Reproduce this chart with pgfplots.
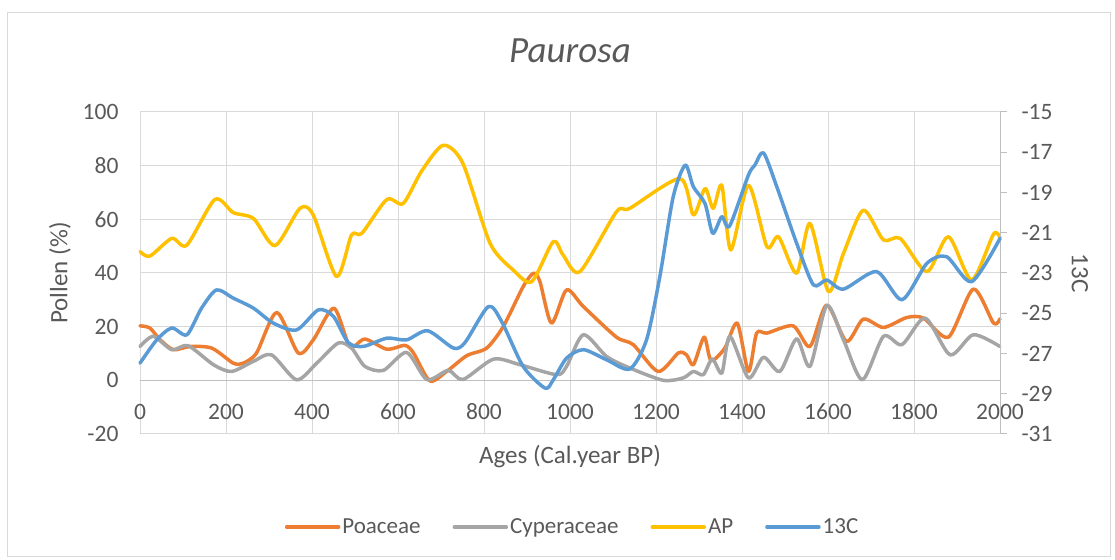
\documentclass[border=0pt]{standalone}
\usepackage{pgfplots}
\pgfplotsset{compat=1.18}
\usepackage{fontspec}
\setmainfont{Carlito}
\definecolor{cPoa}{HTML}{ED7D31}
\definecolor{cCyp}{HTML}{A5A5A5}
\definecolor{cAP}{HTML}{FFC000}
\definecolor{cC}{HTML}{5B9BD5}
\definecolor{txt}{HTML}{595959}
\definecolor{grd}{HTML}{D9D9D9}
\definecolor{axl}{HTML}{BFBFBF}
\begin{document}
\begin{tikzpicture}
\useasboundingbox (0pt,0pt) rectangle (1115pt,559pt);
\draw[grd, line width=1pt] (7pt,3pt) rectangle (1110pt,546pt);
\pgfplotsset{every axis/.append style={font=\fontsize{23}{27}\selectfont, /pgf/number format/assume math mode=true, /pgf/number format/1000 sep={},
    tick label style={font=\fontsize{23.5}{27}\selectfont, text=txt},
    label style={font=\fontsize{25}{30}\selectfont, text=txt}},
  dl/.style={line width=3.5pt, line cap=round, line join=round, smooth, tension=0.45}}
\begin{axis}[at={(140pt,125pt)}, anchor=south west, scale only axis, width=860pt, height=322pt,
  xmin=0, xmax=2000, ymin=-20, ymax=100,
  xtick={0,200,...,2000}, ytick={-20,0,...,100},
  grid=major, major grid style={grd, line width=1pt},
  axis line style={grd, line width=1pt},
  major tick length=0pt,
  xticklabel style={anchor=center, yshift=22pt},
  yticklabel style={xshift=-18pt},
  ylabel={Pollen (\%)}, ylabel style={at={(axis description cs:-0.093,0.5)}, anchor=center},
  xlabel={Ages (Cal.year BP)}, xlabel style={at={(axis description cs:0.5,-0.0714)}, anchor=center},
  title={Paurosa}, title style={at={(axis description cs:0.5,1.171)}, anchor=center, font=\fontsize{37}{42}\selectfont\itshape, text=txt},
  clip=false]
\draw[axl, line width=1pt] (axis cs:0,0) -- (axis cs:2000,0);
\addplot[dl, cPoa] coordinates {(0,20.3)(23,19.5)(47,15.1)(78,11.4)(116,12.6)(167,12.0)(217,6.4)(240,6.4)(271,10.2)(318,25.3)(368,10.2)(403,15.1)(451,26.9)(488,12.6)(523,15.4)(574,11.6)(616,13.0)(636,10.2)(674,-0.2)(713,3.3)(760,9.2)(806,12.0)(845,20.1)(891,34.9)(915,39.9)(930,36.8)(957,21.3)(992,33.7)(1031,27.5)(1108,16.1)(1147,13.3)(1205,3.3)(1252,10.2)(1271,9.5)(1287,5.8)(1312,16.1)(1328,7.4)(1360,12.0)(1389,21.3)(1415,3.3)(1434,17.6)(1458,17.6)(1519,20.3)(1558,12.6)(1597,28.1)(1643,14.5)(1682,22.8)(1729,19.7)(1783,23.4)(1822,23.2)(1880,16.1)(1938,34.0)(1985,21.3)(2000,23.0)};
\addplot[dl, cCyp] coordinates {(0,12.6)(31,16.4)(74,11.4)(112,12.9)(171,5.8)(213,3.3)(264,7.1)(306,9.5)(364,0.2)(411,6.4)(461,13.9)(492,12.0)(523,5.2)(566,3.7)(620,10.4)(667,0.3)(717,3.7)(751,0.3)(822,7.9)(884,5.8)(969,2.1)(992,5.2)(1031,17.0)(1085,8.9)(1139,4.6)(1217,0)(1263,0.9)(1287,3.3)(1310,2.1)(1331,8.0)(1353,2.7)(1372,16.4)(1415,0.9)(1450,8.6)(1488,3.3)(1527,15.5)(1558,5.2)(1597,27.8)(1636,15.1)(1680,0.2)(1729,16.4)(1772,13.3)(1826,23.2)(1884,9.5)(1938,17.0)(2000,12.6)};
\addplot[dl, cAP] coordinates {(0,48.0)(23,46.3)(74,52.9)(109,50.4)(174,67.4)(217,62.5)(264,60.3)(314,50.2)(372,64.1)(403,61.6)(457,38.7)(492,54.2)(516,54.8)(574,67.4)(612,65.9)(655,78.0)(705,87.6)(751,80.8)(814,51.1)(868,41.1)(911,36.8)(961,51.7)(984,46.7)(1023,40.5)(1108,62.8)(1139,64.1)(1256,75.2)(1287,61.6)(1314,71.5)(1333,64.1)(1353,72.7)(1374,48.6)(1415,72.7)(1458,49.8)(1485,53.5)(1527,39.9)(1558,58.5)(1601,33.1)(1636,47.3)(1682,63.4)(1729,52.3)(1768,52.9)(1830,40.5)(1880,53.5)(1934,37.4)(1985,54.5)(2000,53.0)};
\end{axis}
\begin{axis}[at={(140pt,125pt)}, anchor=south west, scale only axis, width=860pt, height=322pt,
  xmin=0, xmax=2000, ymin=-31, ymax=-15,
  ytick={-31,-29,...,-15},
  axis x line=none, axis y line*=right,
  axis line style={axl, line width=1pt},
  tick align=outside, major tick length=7pt, tick style={axl, line width=1pt},
  yticklabel style={xshift=11pt},
  ylabel={13C}, ylabel style={at={(axis description cs:1.093,0.5)}, anchor=center, rotate=180},
  legend columns=4,
  legend style={at={(axis description cs:0.503,-0.289)}, anchor=center, draw=none, fill=none, text=txt, font=\fontsize{23}{27}\selectfont,
    /tikz/every even column/.append style={column sep=30pt}},
  legend image code/.code={\draw[#1, line width=3.5pt, line cap=round] (0pt,0pt) -- (52pt,0pt);},
  clip=false]
\addlegendimage{cPoa}\addlegendentry{Poaceae}
\addlegendimage{cCyp}\addlegendentry{Cyperaceae}
\addlegendimage{cAP}\addlegendentry{AP}
\addplot[dl, cC] coordinates {(0,-27.48)(39,-26.32)(74,-25.73)(109,-26.07)(143,-24.75)(178,-23.84)(217,-24.25)(264,-24.75)(310,-25.49)(364,-25.83)(415,-24.83)(450,-25.16)(484,-26.45)(519,-26.65)(574,-26.24)(620,-26.32)(669,-25.87)(729,-26.73)(756,-26.45)(810,-24.67)(841,-25.41)(891,-27.64)(942,-28.72)(961,-28.31)(992,-27.23)(1031,-26.81)(1085,-27.31)(1139,-27.77)(1178,-26.32)(1209,-23.17)(1240,-19.21)(1268,-17.64)(1287,-18.72)(1314,-19.55)(1332,-21.03)(1353,-20.20)(1371,-20.67)(1415,-18.13)(1430,-17.64)(1450,-17.03)(1481,-18.72)(1527,-21.52)(1566,-23.59)(1597,-23.35)(1636,-23.80)(1713,-22.93)(1772,-24.33)(1830,-22.52)(1876,-22.19)(1934,-23.43)(2000,-21.28)};
\addlegendentry{13C}
\end{axis}
\end{tikzpicture}
\end{document}
